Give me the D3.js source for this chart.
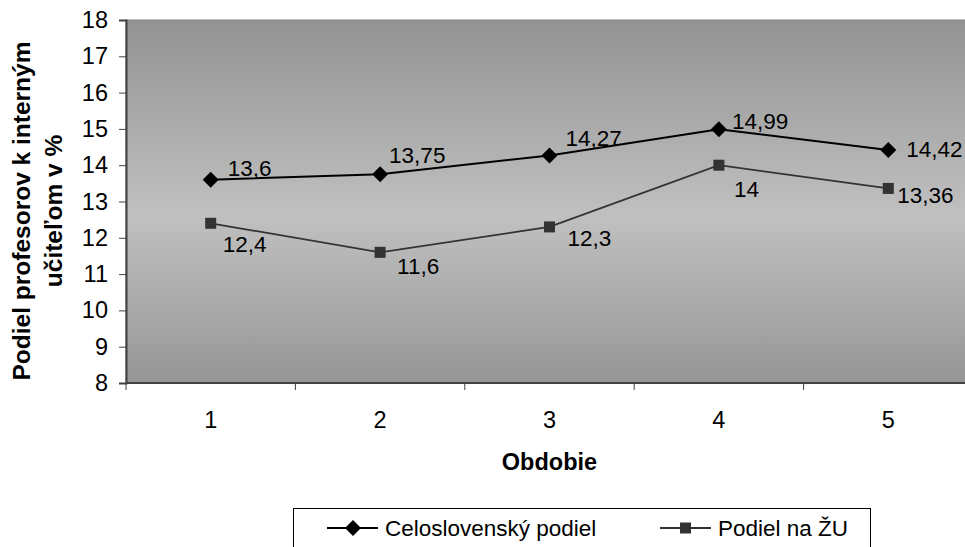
<!DOCTYPE html>
<html>
<head>
<meta charset="utf-8">
<script src="https://cdn.jsdelivr.net/npm/d3@7"></script>
<style>
  html, body { margin: 0; padding: 0; background: #fff; }
  svg { display: block; font-family: "Liberation Sans", Arial, sans-serif; }
</style>
</head>
<body>
<svg id="chart" width="965" height="547"></svg>
<script>
// Periods on the x axis
const periods = ["1", "2", "3", "4", "5"];
// Nationwide share (%)
const nationalShare = [13.6, 13.75, 14.27, 14.99, 14.42];
// Share at ŽU (%)
const zuShare = [12.4, 11.6, 12.3, 14, 13.36];
// Y axis ticks
const yTicks = [8, 9, 10, 11, 12, 13, 14, 15, 16, 17, 18];
const seriesNames = ["Celoslovenský podiel", "Podiel na ŽU"];

// Label placement (offset from the point: text start, baseline)
const nationalLabelOffsets = [[17, -4], [9, -11], [16, -9], [13, 0], [18, 7]];
const zuLabelOffsets = [[12, 29], [17, 22], [18, 19], [15, 32], [9, 15]];

const fmt = v => String(v).replace(".", ",");
const FONT = "Liberation Sans, Arial, sans-serif";

const svg = d3.select("#chart");
const plot = { left: 126, top: 20, width: 847, height: 363 };

const x = d3.scaleBand().domain(periods).range([plot.left, plot.left + plot.width]);
const y = d3.scaleLinear().domain([8, 18]).range([plot.top + plot.height, plot.top]);

// Plot area background gradient
const defs = svg.append("defs");
const grad = defs.append("linearGradient").attr("id", "bg").attr("x1", 0).attr("y1", 0).attr("x2", 0).attr("y2", 1);
grad.append("stop").attr("offset", "0%").attr("stop-color", "#929292");
grad.append("stop").attr("offset", "54%").attr("stop-color", "#c0c0c0");
grad.append("stop").attr("offset", "100%").attr("stop-color", "#969696");

svg.append("rect")
  .attr("x", plot.left).attr("y", plot.top)
  .attr("width", plot.width).attr("height", plot.height)
  .attr("fill", "url(#bg)")
  .attr("stroke", "#808080").attr("stroke-width", 1);

// Y axis
const yAxis = svg.append("g")
  .attr("transform", `translate(${plot.left},0)`)
  .call(d3.axisLeft(y).tickValues(yTicks).tickSize(7).tickPadding(11).tickFormat(d3.format("d")));
yAxis.attr("font-family", FONT).attr("font-size", 23.5);
yAxis.select(".domain").attr("stroke", "#404040").attr("stroke-width", 2);
yAxis.selectAll(".tick line").attr("stroke", "#404040");
yAxis.selectAll(".tick text").attr("fill", "#000");

// X axis (ticks between categories)
const xAxisG = svg.append("g").attr("transform", `translate(0,${plot.top + plot.height})`);
xAxisG.append("line")
  .attr("x1", plot.left).attr("x2", plot.left + plot.width)
  .attr("stroke", "#404040").attr("stroke-width", 2);
const boundaries = periods.map(p => x(p)).concat([plot.left + plot.width]);
xAxisG.selectAll("line.tick").data(boundaries).join("line")
  .attr("class", "tick")
  .attr("x1", d => d).attr("x2", d => d)
  .attr("y1", 0).attr("y2", 7)
  .attr("stroke", "#404040");
xAxisG.selectAll("text").data(periods).join("text")
  .attr("x", d => x(d) + x.bandwidth() / 2)
  .attr("y", 45)
  .attr("text-anchor", "middle")
  .attr("font-size", 23.5)
  .text(d => d);

// Axis titles
svg.append("text")
  .attr("x", x("3") + x.bandwidth() / 2).attr("y", 470)
  .attr("text-anchor", "middle").attr("font-size", 23.5).attr("font-weight", "bold")
  .text("Obdobie");

const yTitle = svg.append("text")
  .attr("transform", "translate(0,211) rotate(-90)")
  .attr("text-anchor", "middle").attr("font-size", 24.5).attr("font-weight", "bold");
yTitle.append("tspan").attr("x", 0).attr("y", 30).text("Podiel profesorov k interným");
yTitle.append("tspan").attr("x", 0).attr("y", 62).text("učiteľom v %");

// Lines
const cx = d => x(d) + x.bandwidth() / 2;
const line = d3.line().x(d => cx(d.p)).y(d => y(d.v));
const natData = periods.map((p, i) => ({ p, v: nationalShare[i] }));
const zuData = periods.map((p, i) => ({ p, v: zuShare[i] }));

svg.append("path").datum(zuData).attr("d", line)
  .attr("fill", "none").attr("stroke", "#333").attr("stroke-width", 1.8);
svg.append("path").datum(natData).attr("d", line)
  .attr("fill", "none").attr("stroke", "#000").attr("stroke-width", 2);

const diamondPath = (s) => `M0,${-s}L${s},0L0,${s}L${-s},0Z`;

svg.selectAll("path.nat").data(natData).join("path")
  .attr("class", "nat")
  .attr("d", diamondPath(8))
  .attr("transform", d => `translate(${cx(d.p)},${y(d.v)})`)
  .attr("fill", "#000");

svg.selectAll("rect.zu").data(zuData).join("rect")
  .attr("class", "zu")
  .attr("x", d => cx(d.p) - 5.5).attr("y", d => y(d.v) - 5.5)
  .attr("width", 11).attr("height", 11)
  .attr("fill", "#333");

// Data labels
svg.selectAll("text.natlbl").data(natData).join("text")
  .attr("class", "natlbl")
  .attr("x", (d, i) => cx(d.p) + nationalLabelOffsets[i][0])
  .attr("y", (d, i) => y(d.v) + nationalLabelOffsets[i][1])
  .attr("font-size", 22.5)
  .text(d => fmt(d.v));
svg.selectAll("text.zulbl").data(zuData).join("text")
  .attr("class", "zulbl")
  .attr("x", (d, i) => cx(d.p) + zuLabelOffsets[i][0])
  .attr("y", (d, i) => y(d.v) + zuLabelOffsets[i][1])
  .attr("font-size", 22.5)
  .text(d => fmt(d.v));

// Legend
const legend = svg.append("g");
legend.append("rect")
  .attr("x", 293.5).attr("y", 508.5).attr("width", 577).attr("height", 60)
  .attr("fill", "#fff").attr("stroke", "#000").attr("stroke-width", 1);

const items = [
  { name: seriesNames[0], x0: 327, tx: 385, marker: "diamond" },
  { name: seriesNames[1], x0: 660, tx: 718, marker: "square" }
];
const ly = 528;
items.forEach(it => {
  legend.append("line")
    .attr("x1", it.x0).attr("x2", it.x0 + 51)
    .attr("y1", ly).attr("y2", ly)
    .attr("stroke", it.marker === "diamond" ? "#000" : "#333").attr("stroke-width", 2);
  if (it.marker === "diamond") {
    legend.append("path").attr("d", diamondPath(8))
      .attr("transform", `translate(${it.x0 + 26},${ly})`).attr("fill", "#000");
  } else {
    legend.append("rect").attr("x", it.x0 + 20).attr("y", ly - 5.5)
      .attr("width", 11).attr("height", 11).attr("fill", "#333");
  }
  legend.append("text").attr("x", it.tx).attr("y", ly + 8)
    .attr("font-size", 22.5).text(it.name);
});
</script>
</body>
</html>
